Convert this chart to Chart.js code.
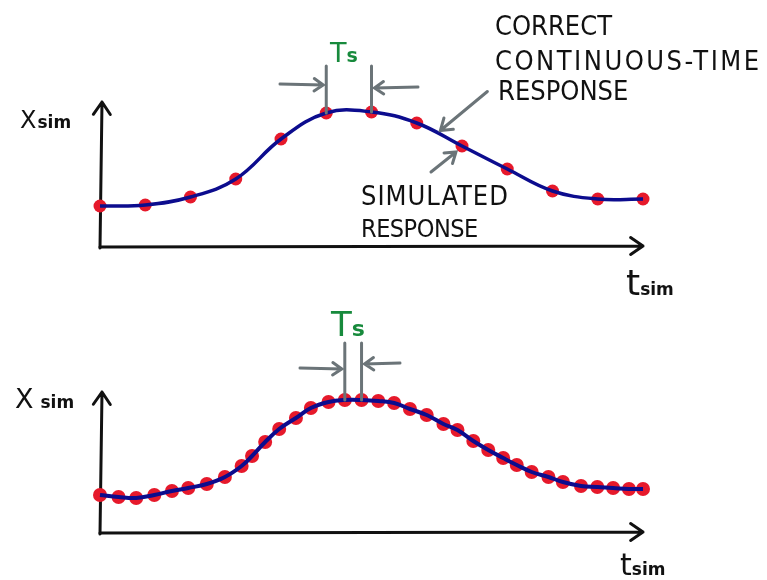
<!DOCTYPE html>
<html>
<head>
<meta charset="utf-8">
<script src="https://cdn.jsdelivr.net/npm/chart.js@4.4.1/dist/chart.umd.min.js"></script>
<style>
  html, body { margin: 0; padding: 0; background: #fff; }
  #page { position: relative; width: 767px; height: 580px; overflow: hidden; }
  canvas { position: absolute; left: 0; }
  #c-top { top: 0; }
  #c-bottom { top: 290px; }
  .txt { position: absolute; line-height: 1; white-space: nowrap; color: #111; }
  .hand { font-family: "DejaVu Sans Condensed", "Liberation Sans Narrow", sans-serif; font-size: 27px; }
  .ax { font-family: "DejaVu Sans", sans-serif; font-weight: normal; }
  .ax span { font-weight: bold; font-size: 17px; }
  .ts { font-family: "DejaVu Sans", sans-serif; color: #178a3c; font-weight: 500; }
  .ts span { font-weight: bold; }
</style>
</head>
<body>
<div id="page">
  <canvas id="c-top" width="767" height="290"></canvas>
  <canvas id="c-bottom" width="767" height="290"></canvas>

  <div class="txt hand" style="left:495px;top:12px;">CORRECT</div>
  <div class="txt hand" style="left:495px;top:47px;letter-spacing:2.5px;">CONTINUOUS-TIME</div>
  <div class="txt hand" style="left:498px;top:77px;">RESPONSE</div>
  <div class="txt hand" style="left:361px;top:182px;letter-spacing:1px;">SIMULATED</div>
  <div class="txt hand" style="left:361px;top:216px;font-size:25px;letter-spacing:-0.5px;">RESPONSE</div>

  <div class="txt ts" style="left:330px;top:39px;font-size:27px;">T<span style="font-size:19px;">s</span></div>
  <div class="txt ts" style="left:331px;top:307px;font-size:34px;">T<span style="font-size:22px;">s</span></div>

  <div class="txt ax" style="left:20px;top:108px;font-size:24px;">X<span style="margin-left:1px;">sim</span></div>
  <div class="txt ax" style="left:15px;top:385px;font-size:27px;">X<span style="margin-left:7px;">sim</span></div>
  <div class="txt ax" style="left:626px;top:265px;font-size:36px;">t<span>sim</span></div>
  <div class="txt ax" style="left:620px;top:550px;font-size:30px;">t<span>sim</span></div>
</div>

<script>
// top sketch: coarse sampling (Ts = 1)
const tTop = [0, 1, 2, 3, 4, 5, 6, 7, 8, 9, 10, 11, 12];
const xTop = [41, 42, 50, 68, 108, 134, 135, 124, 101, 78, 56, 48, 48];

// bottom sketch: fine sampling
const tBottom = [0, 0.41, 0.8, 1.2, 1.59, 1.95, 2.36, 2.76, 3.13, 3.36, 3.65, 3.96, 4.33, 4.66, 5.05, 5.41,
  5.78, 6.15, 6.5, 6.85, 7.22, 7.59, 7.9, 8.25, 8.58, 8.91, 9.21, 9.54, 9.91, 10.23, 10.63, 10.99, 11.34, 11.69, 12];
const xBottom = [38, 36, 35, 38, 42, 45, 49, 56, 67, 77, 91, 104, 115, 125, 131, 133,
  133, 132, 130, 124, 118, 109, 103, 92, 83, 75, 68, 61, 56, 51, 47, 46, 45, 44, 44];

const BLUE = "#0c0c8e";
const RED = "#e6192b";
const GREY = "#6b7478";

function toPts(ts, xs) {
  return ts.map((t, i) => ({ x: t, y: xs[i] }));
}

function arrow(ctx, x1, y1, x2, y2, head) {
  const a = Math.atan2(y2 - y1, x2 - x1);
  ctx.beginPath();
  ctx.moveTo(x1, y1);
  ctx.lineTo(x2, y2);
  ctx.moveTo(x2 - head * Math.cos(a - 0.6), y2 - head * Math.sin(a - 0.6));
  ctx.lineTo(x2, y2);
  ctx.lineTo(x2 - head * Math.cos(a + 0.6), y2 - head * Math.sin(a + 0.6));
  ctx.stroke();
}

// hand-drawn style axes with arrow heads
const axesPlugin = {
  id: "sketchAxes",
  beforeDatasetsDraw(chart) {
    const { ctx, chartArea: a } = chart;
    ctx.save();
    ctx.strokeStyle = "#111";
    ctx.lineWidth = 3;
    ctx.lineCap = "round";
    ctx.lineJoin = "round";
    arrow(ctx, a.left, a.bottom + 1, a.left + 2, a.top, 15);
    arrow(ctx, a.left, a.bottom, a.right, a.bottom - 1, 15);
    ctx.restore();
  },
};

// Ts dimension marks between two neighbouring samples
function tsMarks(iA, iB, lineTop, yL, yR, leftStart, rightStart) {
  return {
    id: "tsMarks",
    afterDatasetsDraw(chart) {
      const { ctx } = chart;
      const meta = chart.getDatasetMeta(1);
      const pA = meta.data[iA], pB = meta.data[iB];
      ctx.save();
      ctx.strokeStyle = GREY;
      ctx.lineWidth = 3;
      ctx.lineCap = "round";
      ctx.beginPath();
      ctx.moveTo(pA.x, lineTop);
      ctx.lineTo(pA.x, pA.y);
      ctx.moveTo(pB.x, lineTop);
      ctx.lineTo(pB.x, pB.y);
      ctx.stroke();
      arrow(ctx, leftStart, yL, pA.x - 3, yL + 1, 11);
      arrow(ctx, rightStart, yR, pB.x + 3, yR + 1, 11);
      ctx.restore();
    },
  };
}

const pointersPlugin = {
  id: "pointers",
  afterDatasetsDraw(chart) {
    const { ctx } = chart;
    const d = chart.getDatasetMeta(1).data;
    ctx.save();
    ctx.strokeStyle = GREY;
    ctx.lineWidth = 3;
    ctx.lineCap = "round";
    const mx = (d[7].x + d[8].x) / 2 + 1;
    const my = (d[7].y + d[8].y) / 2 - 4;
    arrow(ctx, mx + 47, my - 39, mx, my, 13);
    arrow(ctx, d[8].x - 31, d[8].y + 26, d[8].x - 6, d[8].y + 6, 12);
    ctx.restore();
  },
};

function makeChart(id, ts, xs, yMax, padding, lineW, dotR, extra) {
  const pts = toPts(ts, xs);
  return new Chart(document.getElementById(id), {
    type: "line",
    data: {
      datasets: [
        {
          label: "correct continuous-time response",
          data: pts,
          borderColor: BLUE,
          borderWidth: lineW,
          pointRadius: 0,
          tension: 0.4,
          fill: false,
          clip: false,
        },
        {
          label: "simulated response",
          data: pts,
          showLine: false,
          pointRadius: dotR,
          pointBackgroundColor: RED,
          pointBorderWidth: 0,
          clip: false,
        },
      ],
    },
    options: {
      responsive: false,
      animation: false,
      layout: { padding },
      plugins: { legend: { display: false }, tooltip: { enabled: false } },
      scales: {
        x: { type: "linear", min: 0, max: 12, display: false },
        y: { min: 0, max: yMax, display: false },
      },
    },
    plugins: [axesPlugin].concat(extra),
  });
}

makeChart("c-top", tTop, xTop, 145, { left: 100, right: 124, top: 102, bottom: 43 }, 3.5, 6.5,
  [tsMarks(5, 6, 66, 84, 87, 280, 418), pointersPlugin]);
makeChart("c-bottom", tBottom, xBottom, 141, { left: 100, right: 124, top: 102, bottom: 47 }, 4, 7,
  [tsMarks(15, 16, 53, 78, 73, 300, 400)]);
</script>
</body>
</html>
